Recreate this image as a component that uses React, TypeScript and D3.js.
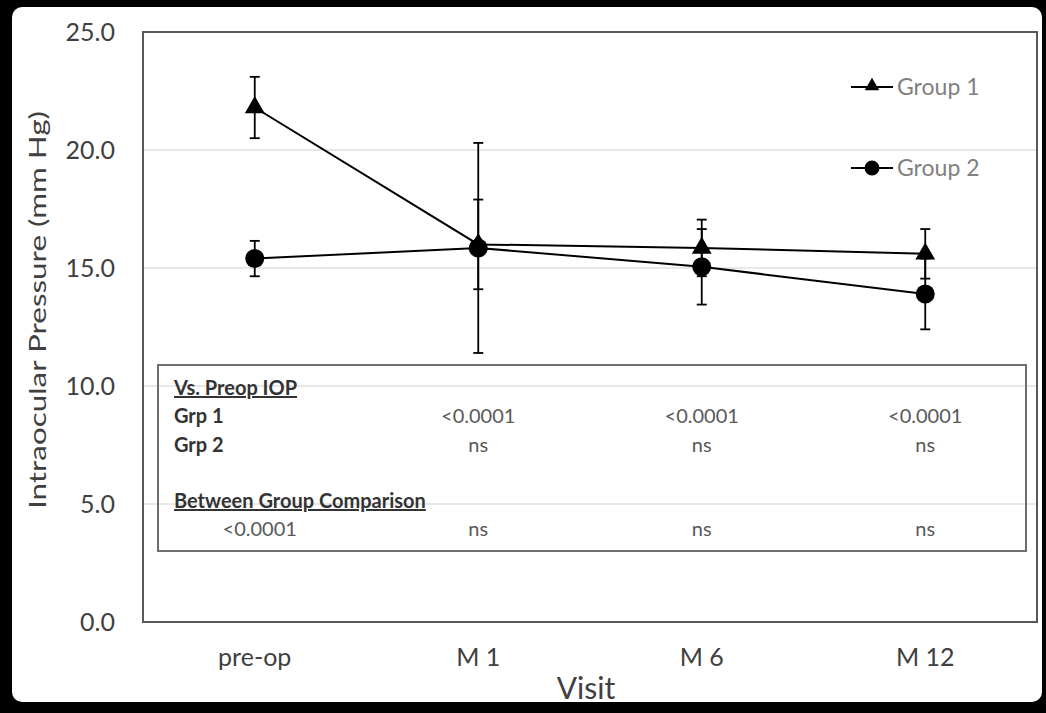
import React from "react";
import * as d3 from "d3";

const visits = ["pre-op", "M 1", "M 6", "M 12"];
const group1Mean = [21.8, 16.0, 15.85, 15.6];
const group1Err = [1.3, 1.9, 1.2, 1.05];
const group2Mean = [15.4, 15.85, 15.05, 13.9];
const group2Err = [0.75, 4.45, 1.6, 1.5];
const yTicks = [0, 5, 10, 15, 20, 25];
const grp1P = ["", "<0.0001", "<0.0001", "<0.0001"];
const grp2P = ["", "ns", "ns", "ns"];
const betweenP = ["<0.0001", "ns", "ns", "ns"];

const W = 1046;
const H = 713;
const M = { left: 143, right: 1037, top: 32, bottom: 622 };
const FONT = "Lato, 'Open Sans', sans-serif";

export default function App() {
  const x = d3.scaleBand<string>().domain(visits).range([M.left, M.right]);
  const cx = (v: string) => (x(v) as number) + x.bandwidth() / 2;
  const y = d3.scaleLinear().domain([0, 25]).range([M.bottom, M.top]);
  const line = d3
    .line<number>()
    .x((_, i) => cx(visits[i]))
    .y((d) => y(d));
  const tri = d3.symbol().type(d3.symbolTriangle).size(170)() as string;

  const errBars = (means: number[], errs: number[], key: string) =>
    means.map((m, i) => {
      const xc = cx(visits[i]);
      const y1 = y(m + errs[i]);
      const y2 = y(m - errs[i]);
      return (
        <g key={key + i} stroke="#000" strokeWidth={1.8}>
          <line x1={xc} x2={xc} y1={y1} y2={y2} />
          <line x1={xc - 5} x2={xc + 5} y1={y1} y2={y1} />
          <line x1={xc - 5} x2={xc + 5} y1={y2} y2={y2} />
        </g>
      );
    });

  const tableRow = (vals: string[], ty: number, key: string, offsetFirst = 0) =>
    vals.map((v, i) =>
      v ? (
        <text
          key={key + i}
          x={cx(visits[i]) + (i === 0 ? offsetFirst : 0)}
          y={ty}
          textAnchor="middle"
          fontSize={20}
          fill="#595959"
        >
          {v}
        </text>
      ) : null
    );

  return (
    <svg
      width={W}
      height={H}
      style={{ position: "absolute", left: 0, top: 0 }}
      fontFamily={FONT}
    >
      <rect x={0} y={0} width={W} height={H} fill="#000" />
      <rect x={12} y={7} width={1030} height={695} rx={10} fill="#fff" />

      {/* gridlines */}
      {yTicks
        .filter((t) => t > 0 && t < 25)
        .map((t) => (
          <line
            key={"g" + t}
            x1={M.left}
            x2={M.right}
            y1={y(t)}
            y2={y(t)}
            stroke="#e0e0e0"
            strokeWidth={1.5}
          />
        ))}

      {/* plot border */}
      <rect
        x={M.left}
        y={M.top}
        width={M.right - M.left}
        height={M.bottom - M.top}
        fill="none"
        stroke="#595959"
        strokeWidth={2}
      />

      {/* y tick labels */}
      {yTicks.map((t) => (
        <text
          key={"t" + t}
          x={115}
          y={y(t)}
          dy="0.35em"
          textAnchor="end"
          fontSize={25}
          fill="#404040"
        >
          {t.toFixed(1)}
        </text>
      ))}

      {/* x tick labels */}
      {visits.map((v) => (
        <text
          key={"x" + v}
          x={cx(v)}
          y={666}
          textAnchor="middle"
          fontSize={25}
          fill="#404040"
        >
          {v}
        </text>
      ))}

      <text x={586} y={699} textAnchor="middle" fontSize={30} fill="#404040">
        Visit
      </text>
      <text
        transform={`translate(46, 310) rotate(-90)`}
        textAnchor="middle"
        fontSize={24}
        fill="#404040"
        textLength={398}
        lengthAdjust="spacingAndGlyphs"
      >
        Intraocular Pressure (mm Hg)
      </text>

      {/* table box */}
      <rect
        x={158}
        y={365}
        width={868}
        height={186}
        fill="none"
        stroke="#6e6e6e"
        strokeWidth={2}
      />
      <g fontSize={20} fill="#333" fontWeight="bold">
        <text x={174} y={395} textDecoration="underline">
          Vs. Preop IOP
        </text>
        <text x={174} y={423}>
          Grp 1
        </text>
        <text x={174} y={452}>
          Grp 2
        </text>
        <text x={174} y={508} textDecoration="underline">
          Between Group Comparison
        </text>
      </g>
      {tableRow(grp1P, 423, "p1")}
      {tableRow(grp2P, 452, "p2")}
      {tableRow(betweenP, 536, "pb", 5)}

      {/* error bars */}
      {errBars(group1Mean, group1Err, "e1")}
      {errBars(group2Mean, group2Err, "e2")}

      {/* lines */}
      <path d={line(group1Mean) as string} fill="none" stroke="#000" strokeWidth={2} />
      <path d={line(group2Mean) as string} fill="none" stroke="#000" strokeWidth={2} />

      {/* markers */}
      {group1Mean.map((m, i) => (
        <path
          key={"m1" + i}
          d={tri}
          transform={`translate(${cx(visits[i])},${y(m)})`}
          fill="#000"
        />
      ))}
      {group2Mean.map((m, i) => (
        <circle key={"m2" + i} cx={cx(visits[i])} cy={y(m)} r={9.5} fill="#000" />
      ))}

      {/* legend */}
      <g>
        <line x1={851} x2={893} y1={87} y2={87} stroke="#000" strokeWidth={2} />
        <path d={d3.symbol().type(d3.symbolTriangle).size(90)() as string} transform="translate(872,86)" fill="#000" />
        <text x={897} y={87} dy="0.35em" fontSize={23} fill="#808080">
          Group 1
        </text>
        <line x1={851} x2={893} y1={168} y2={168} stroke="#000" strokeWidth={2} />
        <circle cx={872} cy={168} r={7.5} fill="#000" />
        <text x={897} y={168} dy="0.35em" fontSize={23} fill="#808080">
          Group 2
        </text>
      </g>
    </svg>
  );
}
